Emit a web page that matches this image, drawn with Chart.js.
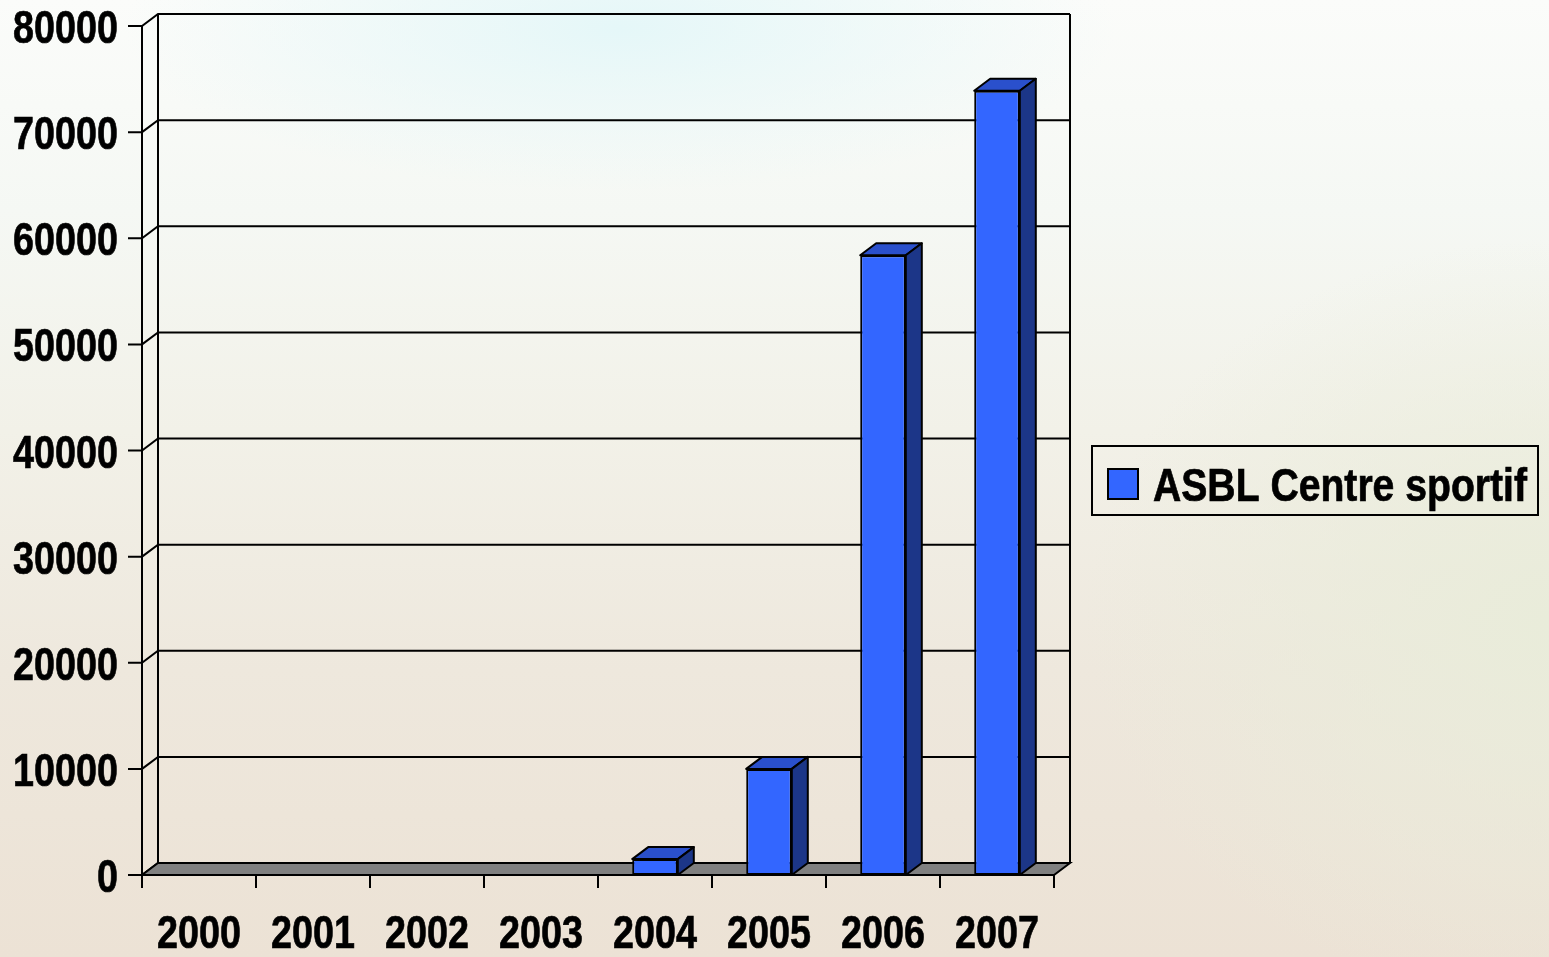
<!DOCTYPE html>
<html>
<head>
<meta charset="utf-8">
<script src="https://cdn.jsdelivr.net/npm/chart.js@4.4.1/dist/chart.umd.min.js"></script>
<style>
  html, body { margin: 0; padding: 0; }
  body {
    width: 1549px; height: 957px; overflow: hidden;
    background:
      radial-gradient(ellipse 32% 17% at 40% 3%, #e5f7f8 0%, rgba(232,247,248,0) 100%),
      radial-gradient(ellipse 30% 40% at 100% 65%, #e9ecda 0%, rgba(236,238,222,0) 100%),
      linear-gradient(180deg, #fbfcfa 0%, #f5f8f4 22%, #f2f1e8 45%, #eee8dd 70%, #ece2d5 100%);
  }
  #wrap { position: relative; width: 1549px; height: 957px; }
</style>
</head>
<body>
<div id="wrap"><canvas id="chart"></canvas></div>
<script>
// data
const years = ['2000','2001','2002','2003','2004','2005','2006','2007'];
const asblValues = [0, 0, 0, 0, 1500, 10000, 58400, 73900];
const seriesLabel = 'ASBL Centre sportif';
const yTicks = [0, 10000, 20000, 30000, 40000, 50000, 60000, 70000, 80000];

const DX = 16, DY = 12; // 3d depth offset
const FONT = "bold 46px 'Liberation Sans', Arial, sans-serif";
const NARROW = 0.82; // fake Arial Narrow

// text squeezed horizontally, like a narrow font
function narrowText(ctx, text, x, y, align, maxW) {
  ctx.save();
  ctx.font = FONT;
  ctx.textBaseline = 'alphabetic';
  ctx.textAlign = 'left';
  let k = NARROW;
  const w = ctx.measureText(text).width;
  if (maxW) k = maxW / w;
  const sw = w * k;
  let left = x;
  if (align === 'right') left = x - sw;
  else if (align === 'center') left = x - sw / 2;
  ctx.translate(left, y);
  ctx.scale(k, 1);
  ctx.fillStyle = '#000';
  ctx.strokeStyle = '#000';
  ctx.lineWidth = 0.7;
  ctx.fillText(text, 0, 0);
  ctx.strokeText(text, 0, 0);
  ctx.restore();
}

// draws back wall, floor, gridlines, the 3d top/side of bars, labels and legend
const fake3d = {
  id: 'fake3d',
  beforeDatasetsDraw(chart) {
    const { ctx, chartArea: a, scales: { x, y } } = chart;
    ctx.save();
    ctx.strokeStyle = '#000';
    ctx.lineWidth = 2;
    yTicks.forEach(v => {
      const py = y.getPixelForValue(v);
      ctx.beginPath();
      ctx.moveTo(a.left - 14, py);
      ctx.lineTo(a.left, py);
      ctx.lineTo(a.left + DX, py - DY);
      ctx.lineTo(a.right + DX, py - DY);
      ctx.stroke();
    });
    // floor
    const p0 = y.getPixelForValue(0);
    ctx.fillStyle = '#808080';
    ctx.beginPath();
    ctx.moveTo(a.left, p0);
    ctx.lineTo(a.right, p0);
    ctx.lineTo(a.right + DX, p0 - DY);
    ctx.lineTo(a.left + DX, p0 - DY);
    ctx.closePath();
    ctx.fill();
    ctx.stroke();
    // wall edges
    const pTop = y.getPixelForValue(yTicks[yTicks.length - 1]);
    ctx.beginPath();
    ctx.moveTo(a.left, pTop); ctx.lineTo(a.left, p0 + 13);
    ctx.moveTo(a.left + DX, pTop - DY); ctx.lineTo(a.left + DX, p0 - DY);
    ctx.moveTo(a.right + DX, pTop - DY); ctx.lineTo(a.right + DX, p0 - DY);
    ctx.stroke();
    // x tick marks between categories
    const step = (a.right - a.left) / years.length;
    ctx.beginPath();
    for (let i = 0; i <= years.length; i++) {
      const px = a.left + i * step;
      ctx.moveTo(px, p0); ctx.lineTo(px, p0 + 13);
    }
    ctx.stroke();
    ctx.restore();
  },
  afterDatasetsDraw(chart) {
    const { ctx } = chart;
    const meta = chart.getDatasetMeta(0);
    ctx.save();
    ctx.strokeStyle = '#000';
    ctx.lineWidth = 2;
    ctx.lineJoin = 'round';
    meta.data.forEach((bar, i) => {
      if (!asblValues[i]) return;
      const { x, y, base, width } = bar.getProps(['x', 'y', 'base', 'width'], true);
      const l = x - width / 2, r = x + width / 2;
      ctx.fillStyle = '#2a50cc';
      ctx.beginPath();
      ctx.moveTo(l, y); ctx.lineTo(l + DX, y - DY); ctx.lineTo(r + DX, y - DY); ctx.lineTo(r, y);
      ctx.closePath(); ctx.fill(); ctx.stroke();
      ctx.fillStyle = '#1c3688';
      ctx.beginPath();
      ctx.moveTo(r, y); ctx.lineTo(r + DX, y - DY); ctx.lineTo(r + DX, base - DY); ctx.lineTo(r, base);
      ctx.closePath(); ctx.fill(); ctx.stroke();
    });
    ctx.restore();
  },
  afterDraw(chart) {
    const { ctx, scales: { x, y } } = chart;
    // axis labels
    yTicks.forEach(v => narrowText(ctx, String(v), 118, y.getPixelForValue(v) + 17, 'right'));
    years.forEach((lab, i) => narrowText(ctx, lab, x.getPixelForValue(i), 948, 'center'));
    // legend box
    const ds = chart.data.datasets[0];
    ctx.save();
    ctx.strokeStyle = '#000';
    ctx.lineWidth = 2;
    ctx.strokeRect(1092, 446, 446, 69);
    ctx.fillStyle = ds.backgroundColor;
    ctx.fillRect(1108, 469, 30, 30);
    ctx.strokeRect(1108, 469, 30, 30);
    ctx.restore();
    narrowText(ctx, ds.label, 1153, 501, 'left', 374);
  }
};

new Chart(document.getElementById('chart'), {
  type: 'bar',
  data: {
    labels: years,
    datasets: [{
      label: seriesLabel,
      data: asblValues,
      backgroundColor: '#3366ff',
      borderColor: '#000',
      borderWidth: ctx => (ctx.raw ? 2 : 0),
      borderSkipped: false,
      categoryPercentage: 1,
      barPercentage: 0.4
    }]
  },
  options: {
    responsive: true,
    maintainAspectRatio: false,
    animation: false,
    layout: { padding: { top: 26, right: 495, left: 0, bottom: 0 } },
    plugins: { legend: { display: false }, tooltip: { enabled: false } },
    scales: {
      x: {
        grid: { display: false, drawTicks: false },
        border: { display: false },
        ticks: { display: false },
        afterFit: s => { s.height = 82; }
      },
      y: {
        min: 0, max: 80000,
        afterBuildTicks: s => { s.ticks = yTicks.map(v => ({ value: v })); },
        grid: { display: false, drawTicks: false },
        border: { display: false },
        ticks: { display: false },
        afterFit: s => { s.width = 142; }
      }
    }
  },
  plugins: [fake3d]
});
</script>
</body>
</html>
